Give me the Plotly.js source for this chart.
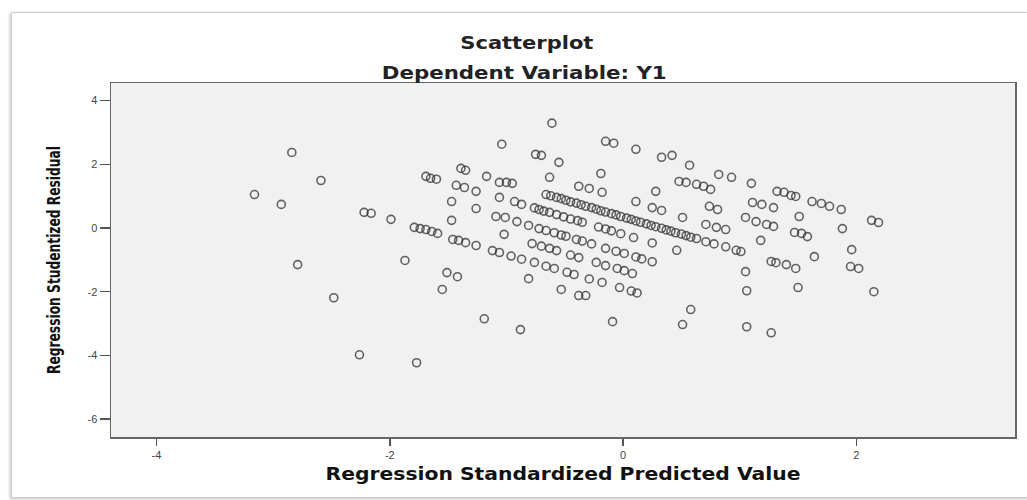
<!DOCTYPE html>
<html>
<head>
<meta charset="utf-8">
<script src="https://cdn.plot.ly/plotly-3.0.1.min.js"></script>
<style>
  html, body { margin: 0; padding: 0; background: #ffffff; }
  #wrap { position: relative; width: 1027px; height: 500px; overflow: hidden; }
  #chart { position: absolute; left: 0; top: 0; width: 1027px; height: 500px; }
  #frame { position: absolute; left: 11px; top: 12px; width: 1016px; height: 484px;
           border: 1px solid #cfcfcf; box-shadow: -1px 1px 3px rgba(0,0,0,0.25);
           pointer-events: none; }
</style>
</head>
<body>
<div id="wrap">
  <div id="chart"></div>
  <div id="frame"></div>
</div>
<script>
// Regression Standardized Predicted Value (x) and Regression Studentized Residual (y)
const predictedLeft = [-3.16, -2.93, -2.84, -2.79, -2.59, -2.48, -2.26, -2.22, -2.16, -1.99, -1.87, -1.77];
const residualLeft  = [ 1.05,  0.74,  2.37, -1.15,  1.49, -2.19, -3.98,  0.49,  0.46,  0.27, -1.02, -4.23];

const predictedBandA = [-1.39, -1.35, -1.06, -1.00, -0.95,
  -0.66, -0.62, -0.57, -0.53, -0.49, -0.45, -0.40, -0.36, -0.32, -0.27, -0.23, -0.19, -0.15, -0.10, -0.06, -0.02,
   0.03, 0.07, 0.11, 0.15, 0.20, 0.24, 0.28, 0.33, 0.37, 0.41, 0.45, 0.50, 0.54, 0.58, 0.63, 0.71, 0.78,
   0.88, 0.97, 1.01, 1.27, 1.31, 1.40, 1.48];
const residualBandA = [1.87, 1.81, 1.43, 1.43, 1.40,
   1.05, 1.01, 0.96, 0.92, 0.87, 0.82, 0.78, 0.73, 0.68, 0.64, 0.59, 0.54, 0.50, 0.45, 0.41, 0.36,
   0.31, 0.27, 0.22, 0.18, 0.13, 0.08, 0.04, -0.01, -0.06, -0.10, -0.15, -0.19, -0.24, -0.29, -0.33, -0.43, -0.50,
  -0.59, -0.70, -0.74, -1.05, -1.09, -1.15, -1.27];

const predictedBandB = [-1.69, -1.65, -1.60, -1.43, -1.36, -1.26, -1.06, -0.93, -0.87, -0.76, -0.72, -0.68, -0.63,
  -0.57, -0.51, -0.45, -0.39, -0.35, -0.21, -0.15, -0.10, -0.02, 0.09, 0.25, 0.46, 1.05, 1.50];
const residualBandB  = [1.62, 1.56, 1.53, 1.34, 1.27, 1.15, 0.96, 0.83, 0.74, 0.63, 0.58, 0.53, 0.49,
   0.42, 0.35, 0.28, 0.23, 0.18, 0.03, -0.03, -0.09, -0.18, -0.30, -0.47, -0.70, -1.37, -1.87];

const predictedBandC = [-1.09, -1.01, -0.91, -0.81, -0.72, -0.66, -0.59, -0.53, -0.49, -0.40, -0.35, -0.27, -0.15,
  -0.06, 0.01, 0.11, 0.16, 0.25];
const residualBandC  = [0.36, 0.33, 0.20, 0.08, -0.02, -0.08, -0.15, -0.22, -0.26, -0.36, -0.41, -0.50, -0.64,
  -0.73, -0.80, -0.91, -0.97, -1.06];

const predictedBandD = [-1.47, -1.02, -0.78, -0.70, -0.63, -0.57, -0.45, -0.38, -0.23, -0.15, -0.05, 0.01, 0.08];
const residualBandD  = [0.24, -0.20, -0.49, -0.57, -0.64, -0.71, -0.85, -0.93, -1.08, -1.18, -1.27, -1.34, -1.43];

const predictedBandE = [-1.79, -1.74, -1.69, -1.64, -1.59, -1.46, -1.41, -1.35, -1.26,
  -1.12, -1.06, -0.96, -0.87, -0.76, -0.66, -0.59, -0.48, -0.42, -0.29, -0.18, -0.03, 0.07, 0.12];
const residualBandE  = [0.02, -0.02, -0.05, -0.11, -0.17, -0.36, -0.39, -0.46, -0.55,
  -0.71, -0.77, -0.88, -0.98, -1.08, -1.20, -1.27, -1.39, -1.46, -1.60, -1.71, -1.87, -1.98, -2.04];

const predictedLower = [-1.51, -1.42, -1.55, -0.81, -0.53, -0.38, -0.32,
  -1.19, -0.88, -0.09, 0.58, 0.51, 1.06, 1.27, 1.06, 2.15];
const residualLower  = [-1.40, -1.53, -1.93, -1.59, -1.93, -2.12, -2.12,
  -2.85, -3.19, -2.94, -2.56, -3.03, -3.10, -3.29, -1.97, -2.00];

const predictedUpper = [-0.61, -1.04, -0.75, -0.70, -0.63, -0.55, -0.15, -0.08, 0.11, 0.33, 0.42, 0.57, 0.82, 0.93,
  1.10, -0.19, -0.38, -0.29, -0.18, 0.28, 0.48, 0.54, 0.63, 0.69, 0.75, 1.32, 1.38, 1.44, 1.48, 1.62, 1.70, 1.77,
  1.87, 2.13, 2.19, 1.11, 1.19, 1.29, 1.51, 1.88, 0.74, 0.81, 0.51, 0.11, 0.25, 0.33, 0.71, 0.80, 0.88, 1.05,
  1.14, 1.23, 1.29, 1.18, 1.47, 1.53, 1.58, 1.96, 1.64, 1.95, 2.02, -1.47, -1.26, -1.17];
const residualUpper  = [3.29, 2.63, 2.31, 2.28, 1.59, 2.06, 2.72, 2.66, 2.47, 2.22, 2.28, 1.97, 1.68, 1.59,
  1.40, 1.71, 1.31, 1.24, 1.12, 1.15, 1.46, 1.43, 1.37, 1.31, 1.21, 1.15, 1.12, 1.02, 0.99, 0.83, 0.77, 0.68,
  0.58, 0.24, 0.17, 0.80, 0.74, 0.64, 0.36, -0.02, 0.68, 0.58, 0.33, 0.83, 0.64, 0.55, 0.11, 0.02, -0.05, 0.33,
  0.20, 0.11, 0.05, -0.39, -0.14, -0.17, -0.27, -0.68, -0.90, -1.21, -1.27, 0.83, 0.61, 1.62];

const xValues = [].concat(predictedLeft, predictedBandA, predictedBandB, predictedBandC, predictedBandD,
                          predictedBandE, predictedLower, predictedUpper);
const yValues = [].concat(residualLeft, residualBandA, residualBandB, residualBandC, residualBandD,
                          residualBandE, residualLower, residualUpper);

const xTicks = [-4, -2, 0, 2];
const yTicks = [-6, -4, -2, 0, 2, 4];

const trace = {
  type: 'scatter',
  mode: 'markers',
  x: xValues,
  y: yValues,
  marker: {
    symbol: 'circle-open',
    size: 8,
    color: 'rgba(50,50,50,0.75)',
    line: { width: 1.6, color: 'rgba(50,50,50,0.75)' }
  },
  hoverinfo: 'x+y',
  showlegend: false
};

const tickFont = { family: 'Liberation Sans, Arial, sans-serif', size: 11, color: '#444' };

const layout = {
  width: 1027,
  height: 500,
  margin: { l: 111, r: 12, t: 83, b: 63, pad: 0 },
  paper_bgcolor: 'rgba(0,0,0,0)',
  plot_bgcolor: '#f1f1f1',
  showlegend: false,
  title: {
    text: 'Scatterplot',
    x: 0.513, xref: 'container', xanchor: 'center',
    y: 1 - 43 / 500, yref: 'container', yanchor: 'middle',
    font: { family: 'DejaVu Sans, sans-serif', size: 18, weight: 'bold', color: '#222' }
  },
  annotations: [{
    text: 'Dependent Variable: Y1',
    xref: 'paper', yref: 'paper',
    x: 0.457, y: 1 + 11 / 354,
    xanchor: 'center', yanchor: 'middle',
    showarrow: false,
    font: { family: 'DejaVu Sans, sans-serif', size: 18, weight: 'bold', color: '#222' }
  }],
  xaxis: {
    range: [-4.39, 3.36],
    tickvals: xTicks,
    ticktext: xTicks.map(String),
    ticks: 'outside', ticklen: 7, tickwidth: 1.5, tickcolor: '#555',
    showline: true, linecolor: '#666', linewidth: 1.5, mirror: true,
    showgrid: false, zeroline: false,
    tickfont: tickFont,
    title: {
      text: 'Regression Standardized Predicted Value',
      standoff: 8,
      font: { family: 'DejaVu Sans, sans-serif', size: 17, weight: 'bold', color: '#111' }
    }
  },
  yaxis: {
    range: [-6.56, 4.55],
    tickvals: yTicks,
    ticktext: yTicks.map(String),
    ticks: 'outside', ticklen: 10, tickwidth: 1.5, tickcolor: '#555',
    showline: true, linecolor: '#666', linewidth: 1.5, mirror: true,
    showgrid: false, zeroline: false,
    tickfont: tickFont,
    title: {
      text: 'Regression Studentized Residual',
      standoff: 22,
      font: { family: 'Liberation Sans Narrow, DejaVu Sans Condensed, Arial Narrow, sans-serif', size: 18, weight: 'bold', color: '#111' }
    }
  }
};

// Stretch the title texts to the widths they have in the original picture.
function fitText(gd, selector, length) {
  const el = gd.querySelector(selector);
  if (!el) return;
  el.setAttribute('textLength', length);
  el.setAttribute('lengthAdjust', 'spacingAndGlyphs');
}

Plotly.newPlot('chart', [trace], layout, { displayModeBar: false, staticPlot: true }).then(function (gd) {
  fitText(gd, '.gtitle', 133);
  fitText(gd, '.annotation-text', 285);
  fitText(gd, '.xtitle', 475);
  fitText(gd, '.ytitle', 228);
});
</script>
</body>
</html>
